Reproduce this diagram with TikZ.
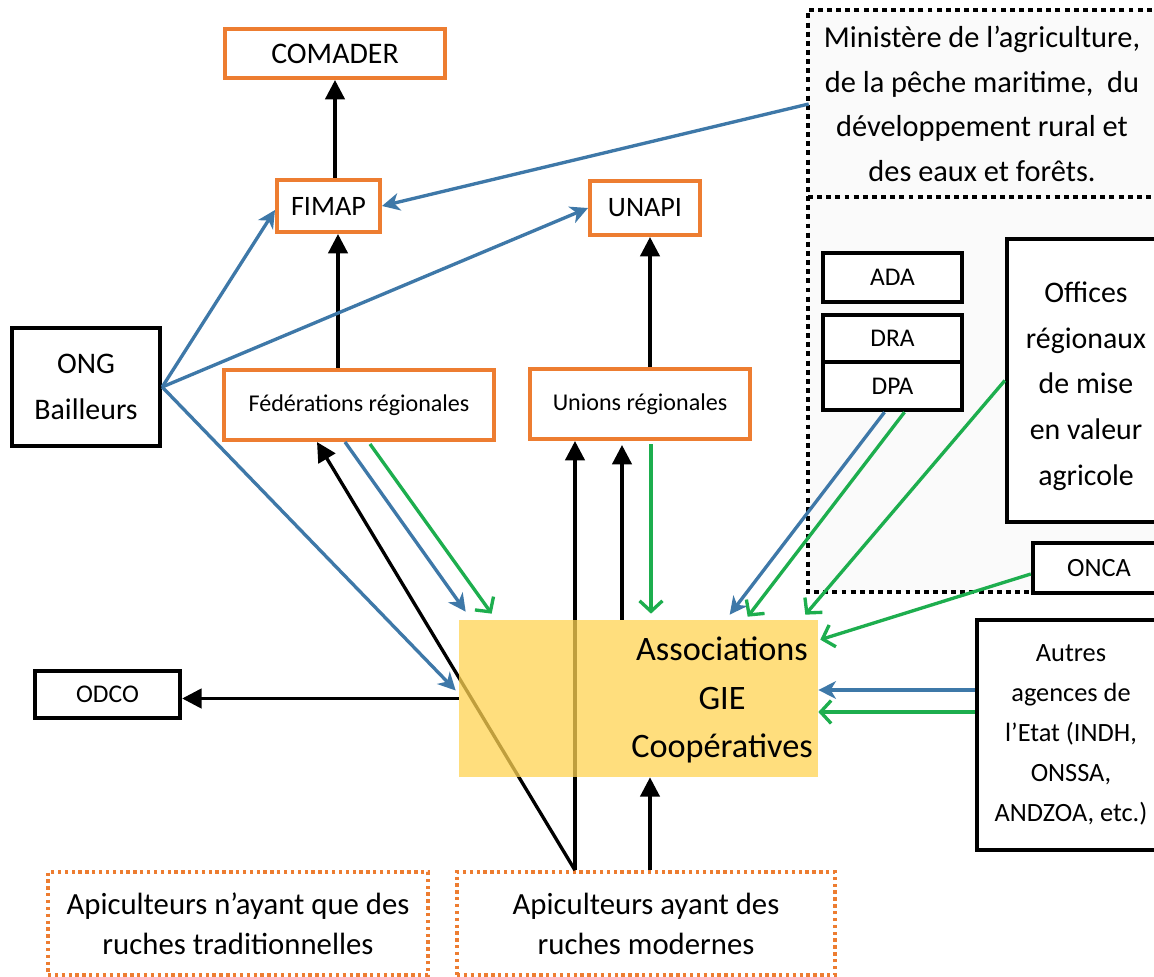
\documentclass[tikz,border=0pt]{standalone}
\usepackage{fontspec}
\setmainfont{Carlito}
\usetikzlibrary{arrows.meta,calc}
\definecolor{boxorange}{HTML}{ED7D31}
\definecolor{linkblue}{HTML}{3E78A8}
\definecolor{linkgreen}{HTML}{1DAE4E}
\definecolor{assocgold}{HTML}{FFD352}

\begin{document}
\begin{tikzpicture}[x=0.02cm, y=-0.02cm,
    obox/.style={draw=boxorange, line width=2.3pt, fill=white, inner sep=0pt, align=center},
    kbox/.style={draw=black, line width=2.5pt, fill=white, inner sep=0pt, align=center},
    apibox/.style={draw=boxorange, line width=2pt, dash pattern=on 1.9pt off 2pt, inner sep=0pt, align=center},
    minline/.style={line width=2.8pt, dash pattern=on 2.8pt off 2.4pt},
    blk/.style={line width=1.9pt, -{Triangle[length=11pt,width=11pt]}},
    blu/.style={draw=linkblue, line width=1.9pt, -{Stealth[length=10pt,width=10pt,inset=3pt]}},
    grn/.style={draw=linkgreen, line width=1.9pt, -{Straight Barb[length=6pt,width=13pt]}}]

    \path[fill=white, use as bounding box] (0,0) rectangle (1154,977);

    % Ministere
    \fill[black!2] (808,10) rectangle (1170,592);
    \draw[minline] (1170,10) -- (808,10) -- (808,592) -- (1170,592);
    \draw[minline] (808,197) -- (1170,197);
    \node[inner sep=0pt, minimum width=6.92cm, minimum height=3.7cm, align=center,
        font=\fontsize{17.3}{25.5}\selectfont] (minag) at (982,104)
        {Ministère de l’agriculture,\\de la pêche maritime,~ du\\développement rural et\\des eaux et forêts.};

    % Boxes
    \node[obox, minimum width=4.4cm, minimum height=0.98cm, font=\fontsize{17}{20}\selectfont] (comader) at (335,53.5) {COMADER};
    \node[obox, minimum width=2.06cm, minimum height=1.04cm, font=\fontsize{16}{19}\selectfont] (fimap) at (328.5,206) {FIMAP};
    \node[obox, minimum width=2.2cm, minimum height=1.08cm, font=\fontsize{16}{19}\selectfont] (unapi) at (645,208) {UNAPI};
    \node[obox, minimum width=5.4cm, minimum height=1.4cm, font=\fontsize{13.7}{16}\selectfont] (fedreg) at (359,405) {Fédérations régionales};
    \node[obox, minimum width=4.4cm, minimum height=1.4cm, font=\fontsize{13.7}{16}\selectfont] (unireg) at (640,404) {Unions régionales};
    \node[kbox, minimum width=2.96cm, minimum height=2.36cm, font=\fontsize{17}{26}\selectfont] (ong) at (86,387) {ONG\\Bailleurs};
    \node[kbox, minimum width=2.9cm, minimum height=0.94cm, font=\fontsize{14.5}{17}\selectfont] (odco) at (107.5,694.5) {ODCO};
    \node[kbox, minimum width=2.78cm, minimum height=0.98cm, font=\fontsize{14.5}{17}\selectfont] (ada) at (892.5,277.5) {ADA};
    \node[kbox, minimum width=2.78cm, minimum height=0.94cm, font=\fontsize{14.5}{17}\selectfont] (dra) at (892.5,338.5) {DRA};
    \node[kbox, minimum width=2.78cm, minimum height=0.96cm, font=\fontsize{14.5}{17}\selectfont] (dpa) at (892.5,386) {DPA};
    \node[kbox, minimum width=3.16cm, minimum height=5.66cm, font=\fontsize{17}{26}\selectfont] (offices) at (1086,380.5) {\rule{0pt}{18pt}Offices\\régionaux\\de mise\\en valeur\\agricole};
    \node[kbox, minimum width=2.64cm, minimum height=1.0cm, font=\fontsize{15}{18}\selectfont] (onca) at (1099,568) {ONCA};
    \node[kbox, minimum width=3.76cm, minimum height=4.6cm, font=\fontsize{15}{22.7}\selectfont] (autres) at (1071,735) {Autres\\agences de\\l’Etat (INDH,\\ONSSA,\\ANDZOA, etc.)};
    \node[minimum width=7.18cm, minimum height=3.14cm, inner sep=0pt] (assoc) at (638.5,698.5) {};
    \node[apibox, minimum width=7.6cm, minimum height=2.06cm, font=\fontsize{17.5}{22.7}\selectfont] (api1) at (238,923.5) {Apiculteurs n’ayant que des\\ruches traditionnelles};
    \node[apibox, minimum width=7.56cm, minimum height=2.06cm, font=\fontsize{17.5}{22.7}\selectfont] (api2) at (646,923.5) {Apiculteurs ayant des\\ruches modernes};

    % Hierarchy
    \draw[blk] (fimap.north -| comader.south) -- (comader.south);
    \draw[blk] ($(fedreg.north)+(-21,0)$) coordinate (fedup) -- (fedup |- fimap.south);
    \draw[blk] ($(unireg.north)+(10,0)$) coordinate (uniup) -- (uniup |- unapi.south);

    % ONG and Ministere
    \draw[blu] (ong.east) -- ($(fimap.west)+(0,4)$);
    \draw[blu] (ong.east) -- (unapi.west);
    \draw[blu] (ong.east) -- ($(assoc.west)+(-3,-8)$);
    \draw[blu] (minag.west) -- (fimap.east);

    % Apiculteurs
    \draw[blk] ($(api2.north)+(-71,0)$) coordinate (apitop) -- ($(fedreg.south)+(-42,0)$);
    \draw[blk] (apitop) -- (apitop |- unireg.south);
    \draw[blk] ($(api2.north)+(4,0)$) coordinate (apimod) -- (apimod |- assoc.south);
    \draw[blk] ($(assoc.north)+(-16.5,0)$) coordinate (assup) -- ($(assup |- unireg.south)+(0,4)$);
    \draw[blk] (assoc.west) -- (assoc.west -| odco.east);

    % To Associations
    \draw[blu] ($(fedreg.south)+(-14,0)$) -- ($(assoc.north west)+(7,-8)$);
    \draw[grn] ($(fedreg.south)+(11,2)$) -- ($(assoc.north west)+(33,-6)$);
    \draw[grn] ($(unireg.south)+(11,3)$) coordinate (unidown) -- ($(unidown |- assoc.north)+(0,-6)$);
    \draw[blu] ($(dpa.south)+(-8,0)$) -- ($(assoc.north west)+(271,-5)$);
    \draw[grn] ($(dpa.south)+(12,0)$) -- ($(assoc.north west)+(289,-3)$);
    \draw[grn] (offices.west) -- ($(assoc.north east)+(-13,-5)$);
    \draw[grn] ($(onca.west)+(0,6)$) -- ($(assoc.north east)+(2,20)$);
    \draw[blu] ($(autres.west)+(0,-45)$) coordinate (autb) -- (autb -| assoc.east);
    \draw[grn] ($(autres.west)+(0,-23)$) coordinate (autg) -- (autg -| assoc.east);

    % Associations box
    \fill[assocgold, opacity=0.75] (assoc.north west) rectangle (assoc.south east);
    \node[align=center, font=\fontsize{19.5}{27.8}\selectfont] (assoctxt) at (722,700) {Associations\\GIE\\Coopératives};
\end{tikzpicture}
\end{document}
